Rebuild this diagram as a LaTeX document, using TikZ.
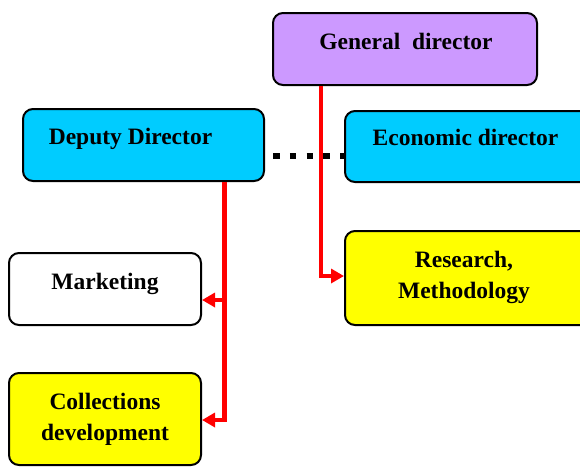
\documentclass[tikz,border=0pt]{standalone}
\usepackage{fontspec}
\setmainfont{Liberation Serif}
\usetikzlibrary{arrows.meta}
\definecolor{boxpurple}{HTML}{CC99FF}
\definecolor{boxcyan}{HTML}{00CCFF}
\definecolor{boxyellow}{HTML}{FFFF00}
\begin{document}
\begin{tikzpicture}[x=1pt,y=-1pt,
  box/.style={draw=black,line width=2pt,rounded corners=10pt,inner sep=0pt,
    minimum width=#1},
  lbl/.style={font=\fontsize{23.5}{31}\selectfont\bfseries,inner sep=0pt,
    anchor=base,align=center},
  link/.style={draw=red,line width=4.5pt,-{Triangle[length=13pt,width=14pt]}},
  dots/.style={line width=6.5pt,dash pattern=on 6.5pt off 10.3pt}]
\useasboundingbox (0,0) rectangle (580,467);

% boxes
\node[box=264pt,minimum height=72pt,fill=boxpurple] (gen) at (405,49) {};
\node[box=241pt,minimum height=72pt,fill=boxcyan] (dep) at (143.5,145) {};
\node[box=255pt,minimum height=71pt,fill=boxcyan] (eco) at (472.5,146.5) {};
\node[box=192pt,minimum height=72pt,fill=white] (mkt) at (105,289) {};
\node[box=255pt,minimum height=94pt,fill=boxyellow] (res) at (472.5,278) {};
\node[box=192pt,minimum height=92pt,fill=boxyellow] (col) at (105,419) {};

% labels (base anchor sits on the last line of multi-line labels)
\node[lbl] (gent) at (406,49) {General~~director};
\node[lbl] (dept) at (130.5,144) {Deputy Director};
\node[lbl] (ecot) at (465.5,145) {Economic director};
\node[lbl] (mktt) at (105,289) {Marketing};
\node[lbl] (rest) at (464,298) {Research,\\Methodology};
\node[lbl] (colt) at (105,440) {Collections\\development};

% dotted link between the two directors
\draw[dots] ([xshift=8pt,yshift=-11pt]dep.east) -- ([yshift=-9.5pt]eco.west);

% reporting lines
\draw[link] ([xshift=-84pt]gen.south) |- ([yshift=2pt]res.west);
\draw[link] ([xshift=81pt]dep.south) |- ([yshift=-11pt]mkt.east);
\draw[link] ([xshift=81pt]dep.south) |- ([yshift=-1pt]col.east);
\end{tikzpicture}
\end{document}
